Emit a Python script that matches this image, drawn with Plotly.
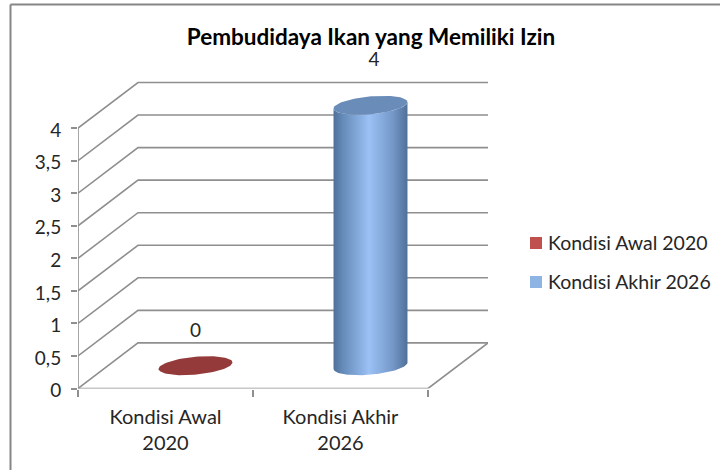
import numpy as np
import plotly.graph_objects as go

# ---- data ----
categories = ["Kondisi Awal<br>2020", "Kondisi Akhir<br>2026"]
series_names = ["Kondisi Awal 2020", "Kondisi Akhir 2026"]
values = [0, 4]
value_labels = ["0", "4"]
y_ticks = [0, 0.5, 1, 1.5, 2, 2.5, 3, 3.5, 4]
y_tick_labels = ["0", "0,5", "1", "1,5", "2", "2,5", "3", "3,5", "4"]

# ---- oblique projection settings, in axis units ----
W, H = 720, 470
BASE_PX = 388.5
PX_PER_CAT = 175.0
PX_PER_VAL = 65.1
DEPTH_X = 60 / PX_PER_CAT
DEPTH_Y = 45.6 / PX_PER_VAL
A = 34.8 / PX_PER_CAT
B = 12.5 / PX_PER_CAT
C = 9.5 / PX_PER_VAL
X_LEFT, X_RIGHT = -0.5, 1.5
FONT = "Lato"
GRID = "#8f8f8f"
TEXT = "#262626"


def ellipse(cx, cy, t):
    return cx + A * np.cos(t) + B * np.sin(t), cy + C * np.sin(t)


fig = go.Figure()

# walls + floor
gx, gy = [], []
for v in y_ticks:
    gx += [X_LEFT, X_LEFT + DEPTH_X, X_RIGHT + DEPTH_X, None]
    gy += [v, v + DEPTH_Y, v + DEPTH_Y, None]
gx += [X_LEFT, X_LEFT, None, X_LEFT, X_RIGHT, X_RIGHT + DEPTH_X]
gy += [0, y_ticks[-1], None, 0, 0, DEPTH_Y]
fig.add_trace(go.Scatter(x=gx, y=gy, mode="lines", line=dict(color=GRID, width=1.6),
                         hoverinfo="skip", showlegend=False))

# cylinders
t0 = np.arctan2(B, A)
lower = np.linspace(t0 + np.pi, t0 + 2 * np.pi, 50)   # front arc, left -> right
full = np.linspace(0, 2 * np.pi, 90)

for i, v in enumerate(values):
    cx = i + DEPTH_X / 2
    cy = DEPTH_Y / 2
    if v > 0:
        bx, by = ellipse(cx, cy, lower)
        tx, ty = ellipse(cx, cy + v, lower[::-1])
        fig.add_trace(go.Scatter(
            x=np.r_[bx, tx], y=np.r_[by, ty], fill="toself", mode="lines",
            line=dict(width=0, color="rgba(0,0,0,0)"),
            fillgradient=dict(type="horizontal", colorscale=[
                [0, "#4f7099"], [0.12, "#648ab8"], [0.48, "#9bc1f5"],
                [0.8, "#7498c8"], [1, "#4f7099"]]),
            name=series_names[i], hoverinfo="skip", showlegend=False))
        ex, ey = ellipse(cx, cy + v, full)
        fig.add_trace(go.Scatter(x=ex, y=ey, fill="toself", mode="lines",
                                 line=dict(width=0, color="#6a8cb9"), fillcolor="#6a8cb9",
                                 hoverinfo="skip", showlegend=False))
    else:
        ex, ey = ellipse(cx, cy, full)
        fig.add_trace(go.Scatter(x=ex, y=ey, fill="toself", mode="lines",
                                 line=dict(width=0, color="#953a3a"), fillcolor="#953a3a",
                                 name=series_names[i], hoverinfo="skip", showlegend=False))

# value labels
fig.add_trace(go.Scatter(
    x=[i + DEPTH_X / 2 + (0.02 if v else 0) for i, v in enumerate(values)],
    y=[v + (1.02 if v else 0.87) for v in values],
    text=value_labels, mode="text", textposition="middle center",
    textfont=dict(family=FONT, size=19, color=TEXT),
    cliponaxis=False, hoverinfo="skip", showlegend=False))

x_range = [X_LEFT, X_RIGHT + DEPTH_X]
y_range = [0, y_ticks[-1] + 1.5]
fig.update_layout(
    width=W, height=H, autosize=False,
    margin=dict(l=0, r=0, t=0, b=0),
    paper_bgcolor="white", plot_bgcolor="rgba(0,0,0,0)", showlegend=False,
    font=dict(family=FONT, size=20, color=TEXT),
    xaxis=dict(domain=[78 / W, 78 / W + (x_range[1] - x_range[0]) * PX_PER_CAT / W],
               range=x_range, tickmode="array", tickvals=[0, 1], ticktext=categories,
               ticks="", showgrid=False, zeroline=False, showline=False, automargin=False,
               ticklabelstandoff=14,
               minor=dict(tickmode="array", tickvals=[X_LEFT, 0.5, X_RIGHT], ticks="outside",
                          ticklen=7, tickwidth=1.6, tickcolor=GRID, showgrid=False)),
    yaxis=dict(domain=[(H - BASE_PX) / H, (H - BASE_PX + (y_range[1]) * PX_PER_VAL) / H],
               range=y_range, tickmode="array", tickvals=y_ticks, ticktext=y_tick_labels,
               ticks="outside", ticklen=6, tickwidth=1.6, tickcolor=GRID, automargin=False,
               tickfont=dict(family=FONT, size=19, color=TEXT), ticklabelshift=2,
               showgrid=False, zeroline=False, showline=False, ticklabelstandoff=6),
    title=dict(text="<b>Pembudidaya Ikan yang Memiliki Izin</b>", x=371 / W, xanchor="center",
               y=1 - 37 / H, yanchor="middle", font=dict(family=FONT, size=22.5, color="#000000")),
)

# frame
fig.add_shape(type="line", xref="paper", yref="paper", x0=10.5 / W, x1=1, y0=1 - 4.5 / H, y1=1 - 4.5 / H,
              line=dict(color="#868686", width=2))
fig.add_shape(type="line", xref="paper", yref="paper", x0=10.5 / W, x1=10.5 / W, y0=0, y1=1 - 4.5 / H,
              line=dict(color="#868686", width=2))

# legend
legend_colors = ["#c0504d", "#8db4e3"]
legend_y = [243, 282]
for name, col, ly in zip(series_names, legend_colors, legend_y):
    fig.add_shape(type="rect", xref="paper", yref="paper",
                  x0=530 / W, x1=542 / W, y0=1 - (ly - 6) / H, y1=1 - (ly + 6) / H,
                  fillcolor=col, line=dict(width=0))
    fig.add_annotation(xref="paper", yref="paper", x=546 / W, y=1 - (ly - 0.5) / H, text=name,
                       showarrow=False, xanchor="left", yanchor="middle",
                       font=dict(family=FONT, size=19.5, color=TEXT))

fig.write_html("out.html", config=dict(displayModeBar=False),
               post_script="document.body.style.margin='0';")
